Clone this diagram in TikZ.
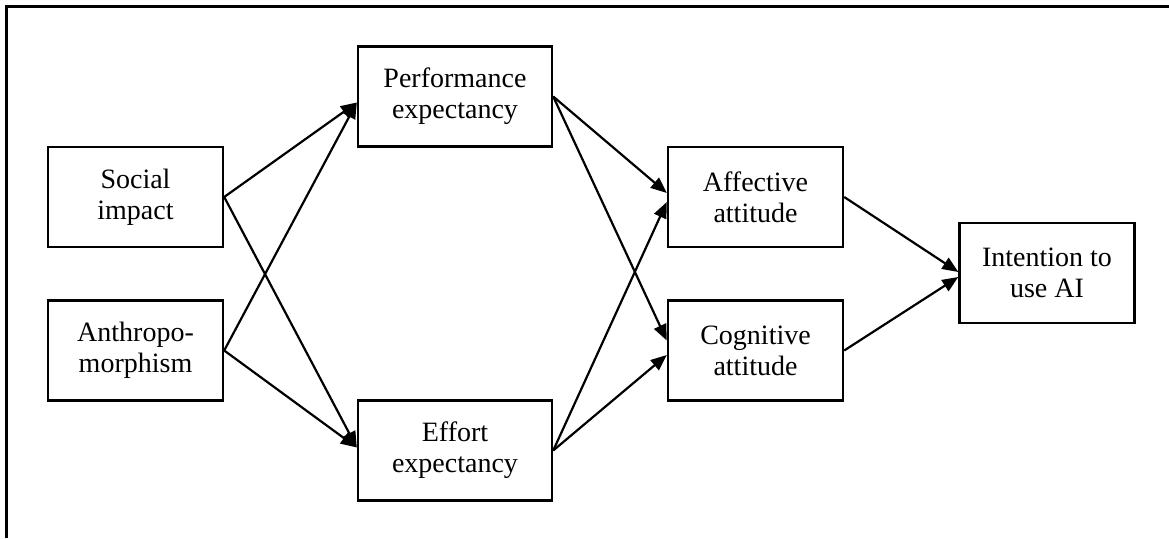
\documentclass[tikz,border=0pt]{standalone}
\usepackage{fontspec}
\setmainfont{Liberation Serif}
\usetikzlibrary{arrows.meta}
\begin{document}
\begin{tikzpicture}[x=1pt,y=-1pt,
  factor/.style={draw, line width=2.4pt, align=center, inner sep=0pt,
    minimum width=175pt, minimum height=100pt,
    font=\fontsize{28}{31}\selectfont},
  wide/.style={factor, minimum width=194pt},
  link/.style={line width=2.2pt, -{Triangle[length=16pt,width=13pt]}}]
  \useasboundingbox (0,0) rectangle (1169,538);
  % frame (top and left edges)
  \draw[line width=3pt] (6,538) -- (6,6) -- (1169,6);

  % constructs
  \node[factor] (soc) at (135.5,197) {Social\\impact};
  \node[factor] (ant) at (135.5,350.5) {Anthropo-\\morphism};
  \node[wide] (perf) at (455,96.5) {Performance\\expectancy};
  \node[wide] (eff) at (455,450.5) {Effort\\expectancy};
  \node[factor] (aff) at (755.5,197) {Affective\\attitude};
  \node[factor] (cog) at (755.5,350.5) {Cognitive\\attitude};
  \node[factor] (int) at (1047,273) {Intention to\\use AI};

  % paths
  \draw[link] (soc.east) -- ([yshift=-6pt]perf.west);
  \draw[link] (ant.east) -- ([yshift=-6pt]perf.west);
  \draw[link] (soc.east) -- ([yshift=3pt]eff.west);
  \draw[link] (ant.east) -- ([yshift=3pt]eff.west);
  \draw[link] (perf.east) -- ([yshift=4pt]aff.west);
  \draw[link] (perf.east) -- ([yshift=10pt]cog.west);
  \draw[link] (eff.east) -- ([yshift=-5pt]aff.west);
  \draw[link] (eff.east) -- ([yshift=-4.5pt]cog.west);
  \draw[link] (aff.east) -- ([yshift=1pt]int.west);
  \draw[link] (cog.east) -- ([yshift=-4pt]int.west);
\end{tikzpicture}
\end{document}
